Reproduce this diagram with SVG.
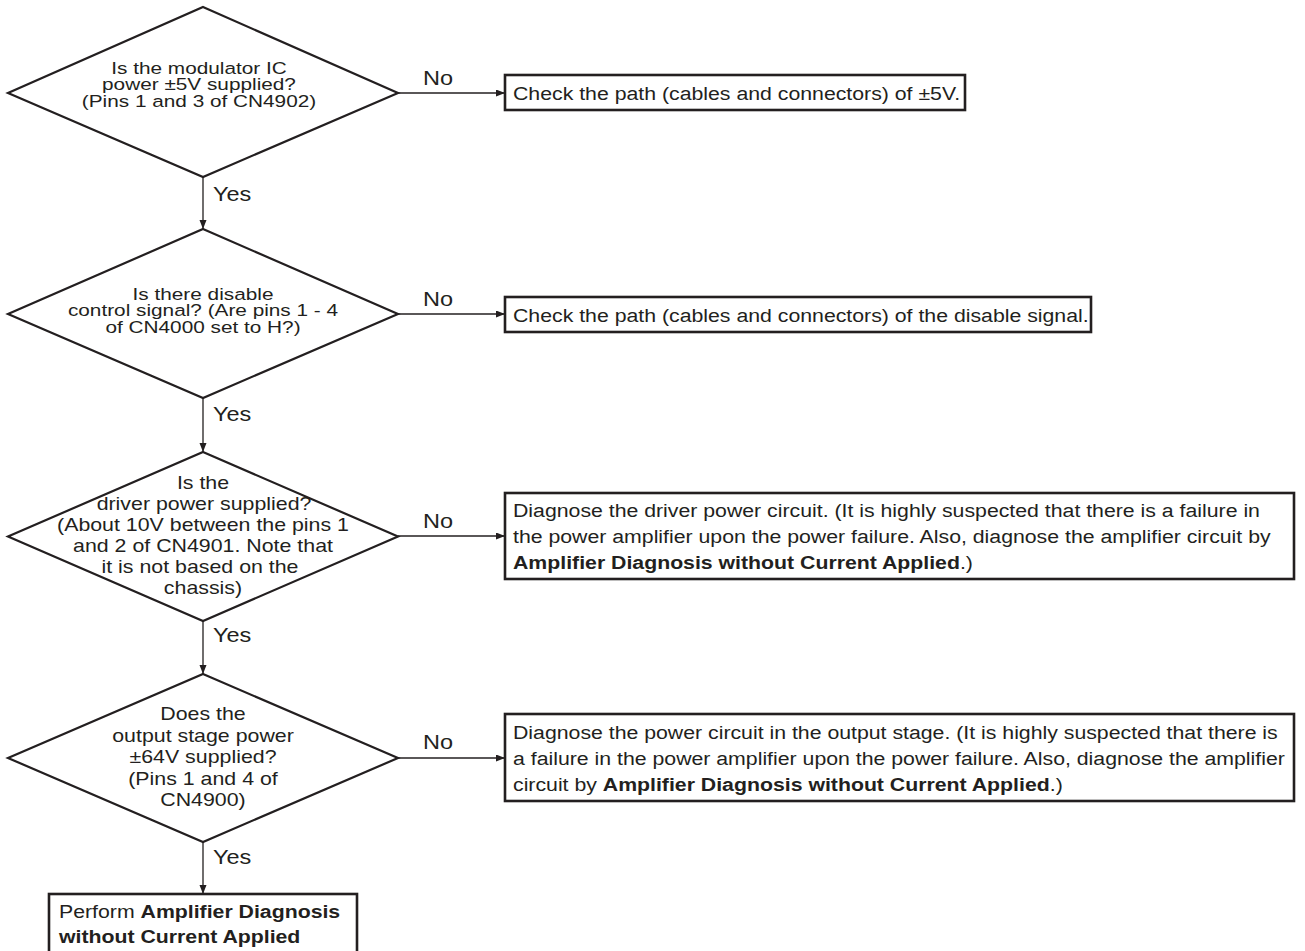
<svg xmlns="http://www.w3.org/2000/svg" width="1305" height="951" viewBox="0 0 1305 951">
<defs>
<style>
.bg{fill:#fff}
.dia{fill:none;stroke:#231f20;stroke-width:2.2;stroke-linejoin:miter}
.box{fill:#fff;stroke:#231f20;stroke-width:2.6}
.con{fill:none;stroke:#231f20;stroke-width:1.3}
.t{font-family:"Liberation Sans",Arial,sans-serif;font-size:19px;fill:#231f20}
.d{font-family:"Liberation Sans",Arial,sans-serif;font-size:17.5px;fill:#231f20;text-anchor:middle}
.ds{font-family:"Liberation Sans",Arial,sans-serif;font-size:16.5px;fill:#231f20;text-anchor:middle}
.lbl{font-family:"Liberation Sans",Arial,sans-serif;font-size:21px;fill:#231f20}
.b{font-weight:bold}
</style>
<marker id="ah" markerUnits="userSpaceOnUse" markerWidth="10" markerHeight="8" refX="9" refY="3.5" orient="auto">
<path d="M0,0 L9,3.5 L0,7 z" fill="#231f20"/>
</marker>
</defs>
<rect class="bg" x="0" y="0" width="1305" height="951"/>

<g id="connectors">
<line class="con" x1="203" y1="177" x2="203" y2="229" marker-end="url(#ah)"/>
<line class="con" x1="203" y1="398" x2="203" y2="452" marker-end="url(#ah)"/>
<line class="con" x1="203" y1="621" x2="203" y2="674" marker-end="url(#ah)"/>
<line class="con" x1="203" y1="842" x2="203" y2="894" marker-end="url(#ah)"/>
<line class="con" x1="398" y1="93" x2="505" y2="93" marker-end="url(#ah)"/>
<line class="con" x1="398" y1="314" x2="505" y2="314" marker-end="url(#ah)"/>
<line class="con" x1="398" y1="536" x2="505" y2="536" marker-end="url(#ah)"/>
<line class="con" x1="398" y1="758" x2="505" y2="758" marker-end="url(#ah)"/>
<text class="lbl" transform="translate(423,85) scale(1.12,1)">No</text>
<text class="lbl" transform="translate(423,306) scale(1.12,1)">No</text>
<text class="lbl" transform="translate(423,528) scale(1.12,1)">No</text>
<text class="lbl" transform="translate(423,749) scale(1.12,1)">No</text>
<text class="lbl" transform="translate(213,201) scale(1.12,1)">Yes</text>
<text class="lbl" transform="translate(213,421) scale(1.12,1)">Yes</text>
<text class="lbl" transform="translate(213,642) scale(1.12,1)">Yes</text>
<text class="lbl" transform="translate(213,864) scale(1.12,1)">Yes</text>
</g>

<g id="d1">
<polygon class="dia" points="203,7 398,93 203,177 8,93"/>
<text class="ds" transform="translate(199,73.5) scale(1.26,1)">Is the modulator IC</text>
<text class="ds" transform="translate(199,90) scale(1.26,1)">power ±5V supplied?</text>
<text class="ds" transform="translate(199,106.5) scale(1.26,1)">(Pins 1 and 3 of CN4902)</text>
</g>

<g id="d2">
<polygon class="dia" points="203,229 398,314 203,398 8,314"/>
<text class="ds" transform="translate(203,299.5) scale(1.26,1)">Is there disable</text>
<text class="ds" transform="translate(203,316) scale(1.26,1)">control signal? (Are pins 1 - 4</text>
<text class="ds" transform="translate(203,332.5) scale(1.26,1)">of CN4000 set to H?)</text>
</g>

<g id="d3">
<polygon class="dia" points="203,452 398,536.5 203,621 8,536.5"/>
<text class="d" transform="translate(203,489) scale(1.22,1)">Is the</text>
<text class="d" transform="translate(204,510) scale(1.22,1)">driver power supplied?</text>
<text class="d" transform="translate(203,531) scale(1.22,1)">(About 10V between the pins 1</text>
<text class="d" transform="translate(203,552) scale(1.22,1)">and 2 of CN4901. Note that</text>
<text class="d" transform="translate(200,573) scale(1.22,1)">it is not based on the</text>
<text class="d" transform="translate(203,594) scale(1.22,1)">chassis)</text>
</g>

<g id="d4">
<polygon class="dia" points="203,674 398,758 203,842 8,758"/>
<text class="d" transform="translate(203,720) scale(1.22,1)">Does the</text>
<text class="d" transform="translate(203,741.5) scale(1.22,1)">output stage power</text>
<text class="d" transform="translate(203,763) scale(1.22,1)">±64V supplied?</text>
<text class="d" transform="translate(203,784.5) scale(1.22,1)">(Pins 1 and 4 of</text>
<text class="d" transform="translate(203,806) scale(1.22,1)">CN4900)</text>
</g>

<g id="b1">
<rect class="box" x="505" y="75" width="460" height="35"/>
<text class="t" transform="translate(513,100) scale(1.12,1)">Check the path (cables and connectors) of ±5V.</text>
</g>

<g id="b2">
<rect class="box" x="505" y="297" width="586" height="35"/>
<text class="t" transform="translate(513,322) scale(1.12,1)">Check the path (cables and connectors) of the disable signal.</text>
</g>

<g id="b3">
<rect class="box" x="505" y="493" width="789" height="86"/>
<text class="t" transform="translate(513,517) scale(1.12,1)">Diagnose the driver power circuit. (It is highly suspected that there is a failure in</text>
<text class="t" transform="translate(513,543) scale(1.12,1)">the power amplifier upon the power failure. Also, diagnose the amplifier circuit by</text>
<text class="t" transform="translate(513,569) scale(1.12,1)"><tspan class="b">Amplifier Diagnosis without Current Applied</tspan>.)</text>
</g>

<g id="b4">
<rect class="box" x="505" y="714" width="789" height="87"/>
<text class="t" transform="translate(513,739) scale(1.12,1)">Diagnose the power circuit in the output stage. (It is highly suspected that there is</text>
<text class="t" transform="translate(513,765) scale(1.12,1)">a failure in the power amplifier upon the power failure. Also, diagnose the amplifier</text>
<text class="t" transform="translate(513,791) scale(1.12,1)">circuit by <tspan class="b">Amplifier Diagnosis without Current Applied</tspan>.)</text>
</g>

<g id="b5">
<rect class="box" x="49" y="894" width="308" height="70"/>
<text class="t" transform="translate(59,918) scale(1.12,1)">Perform <tspan class="b">Amplifier Diagnosis</tspan></text>
<text class="t b" transform="translate(59,943) scale(1.12,1)">without Current Applied</text>
</g>
</svg>
